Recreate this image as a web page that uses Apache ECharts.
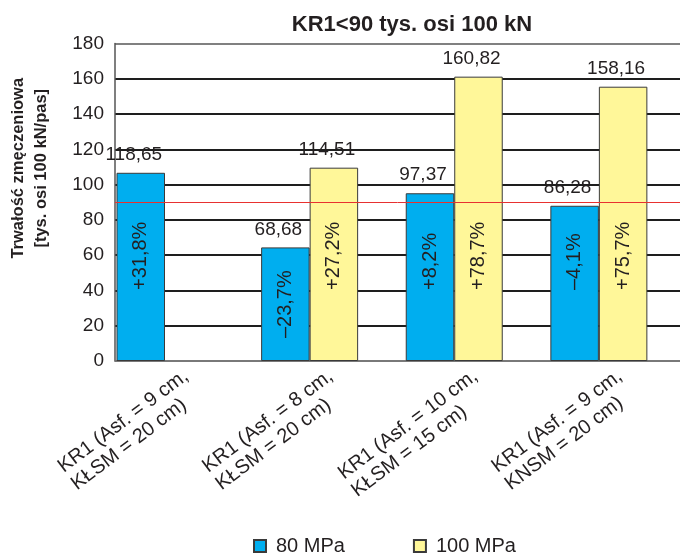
<!DOCTYPE html>
<html><head><meta charset="utf-8">
<script src="https://cdn.jsdelivr.net/npm/echarts@6/dist/echarts.min.js"></script>
<style>html,body{margin:0;padding:0;background:#fff}#c{width:680px;height:558px}</style>
</head><body><div id="c"></div>
<script>
const titleText = 'KR1<90 tys. osi 100 kN';
const yAxisTitle = 'Trwałość zmęczeniowa\n[tys. osi 100 kN/pas]';
const categories = ['KR1 (Asf. = 9 cm,\nKŁSM = 20 cm)', 'KR1 (Asf. = 8 cm,\nKŁSM = 20 cm)', 'KR1 (Asf. = 10 cm,\nKŁSM = 15 cm)', 'KR1 (Asf. = 9 cm,\nKNSM = 20 cm)'];
const seriesNames = ['80 MPa', '100 MPa'];
const values80 = [106.7, 64.4, 95.1, 88.0];
const values100 = [null, 109.6, 161.2, 155.5];
const valueLabels80 = ['118,65', '68,68', '97,37', '86,28'];
const valueLabels100 = ['', '114,51', '160,82', '158,16'];
const changeLabels80 = ['+31,8%', '–23,7%', '+8,2%', '–4,1%'];
const changeLabels100 = ['', '+27,2%', '+78,7%', '+75,7%'];
const threshold = 90;
const yMin = 0, yMax = 180, yInterval = 20;

const FONT = "'Liberation Sans', Arial, sans-serif";
const TXT = '#231f20';
const BLUE = '#00aeef', YELLOW = '#fff799', EDGE = '#3a3a3a';
const BW = 48.5;

function mainData(vals, changes) {
  return vals.map((v, i) => {
    if (v == null) return { value: [i, '-'] };
    const lab = v < 80
      ? { position: 'inside', rotate: 90, align: 'center', verticalAlign: 'middle' }
      : { position: 'insideBottom', distance: 71, rotate: 90, align: 'left', verticalAlign: 'middle' };
    lab.formatter = changes[i];
    return { value: [i, v], label: lab };
  });
}
function valueMarks(vals, labels) {
  const pts = [];
  vals.forEach((v, i) => {
    if (v == null) return;
    pts.push({ coord: [i, v], name: labels[i] });
  });
  return {
    symbol: 'rect', symbolSize: 1, silent: true,
    itemStyle: { color: 'rgba(0,0,0,0)' },
    label: {
      show: true, position: 'top', distance: 8, offset: [-7, 0],
      fontSize: 19, color: TXT, fontFamily: FONT, formatter: '{b}'
    },
    data: pts
  };
}
const insideLabelBase = { show: true, fontSize: 20, color: TXT, fontFamily: FONT };

const splitColors = [];
for (let v = yMin; v <= yMax; v += yInterval) splitColors.push((v === yMin || v === yMax) ? '#808080' : '#1e1e1e');

const chart = echarts.init(document.getElementById('c'), null, { renderer: 'canvas' });
chart.setOption({
  animation: false,
  backgroundColor: '#fff',
  textStyle: { fontFamily: FONT },
  title: {
    text: titleText, left: 412, top: 14, textAlign: 'center', padding: 0,
    textStyle: { fontSize: 22, fontWeight: 'bold', color: TXT, fontFamily: FONT }
  },
  legend: {
    data: seriesNames, left: 253, top: 536, padding: 0,
    itemWidth: 12, itemHeight: 12, itemGap: 68, icon: 'rect',
    textStyle: { fontSize: 20, color: TXT, fontFamily: FONT, padding: [0, 0, 0, 5] }
  },
  grid: { left: 115, right: 0, top: 43.5, bottom: 197, containLabel: false, outerBoundsMode: 'none' },
  xAxis: {
    type: 'value', min: -0.3458, max: 3.561,
    splitLine: { show: false }, axisTick: { show: false },
    axisLine: { show: true, onZero: false, lineStyle: { color: '#777', width: 1.5 } },
    axisLabel: {
      customValues: [0, 1, 2, 3],
      formatter: v => {
        const parts = categories[Math.round(v)].split('\n');
        return parts.map(s => '{l|' + s + '}').join('\n');
      },
      rotate: 37, align: 'right', verticalAlign: 'top', margin: 15, padding: [0, -18, 0, 0],
      fontSize: 20, lineHeight: 22, color: TXT, fontFamily: FONT,
      rich: { l: { align: 'left', fontSize: 20, lineHeight: 22, color: TXT, fontFamily: FONT } }
    }
  },
  yAxis: {
    type: 'value', min: yMin, max: yMax, interval: yInterval,
    name: yAxisTitle, nameLocation: 'middle', nameRotate: 90, nameGap: 62,
    nameTextStyle: { fontSize: 16.5, fontWeight: 'bold', lineHeight: 23, color: TXT, fontFamily: FONT, padding: [0, 0, 0, 68] },
    axisLine: { show: true, onZero: false, lineStyle: { color: '#555', width: 1.5 } },
    axisTick: { show: false },
    axisLabel: { fontSize: 19, color: TXT, margin: 11, fontFamily: FONT },
    splitLine: { show: true, lineStyle: { color: splitColors, width: 2 } }
  },
  series: [
    {
      name: seriesNames[0], type: 'bar', barWidth: BW, barGap: 0,
      itemStyle: { color: BLUE, borderColor: EDGE, borderWidth: 1 },
      label: insideLabelBase,
      data: mainData(values80, changeLabels80),
      markPoint: valueMarks(values80, valueLabels80),
      markLine: {
        silent: true, symbol: ['none', 'none'], label: { show: false },
        lineStyle: { color: '#e8312f', width: 1, type: 'solid' },
        data: [{ yAxis: threshold }]
      }
    },
    {
      name: seriesNames[1], type: 'bar', barWidth: BW, barGap: 0,
      itemStyle: { color: YELLOW, borderColor: EDGE, borderWidth: 1 },
      label: insideLabelBase,
      data: mainData(values100, changeLabels100),
      markPoint: valueMarks(values100, valueLabels100)
    }
  ]
});
</script>
</body></html>
